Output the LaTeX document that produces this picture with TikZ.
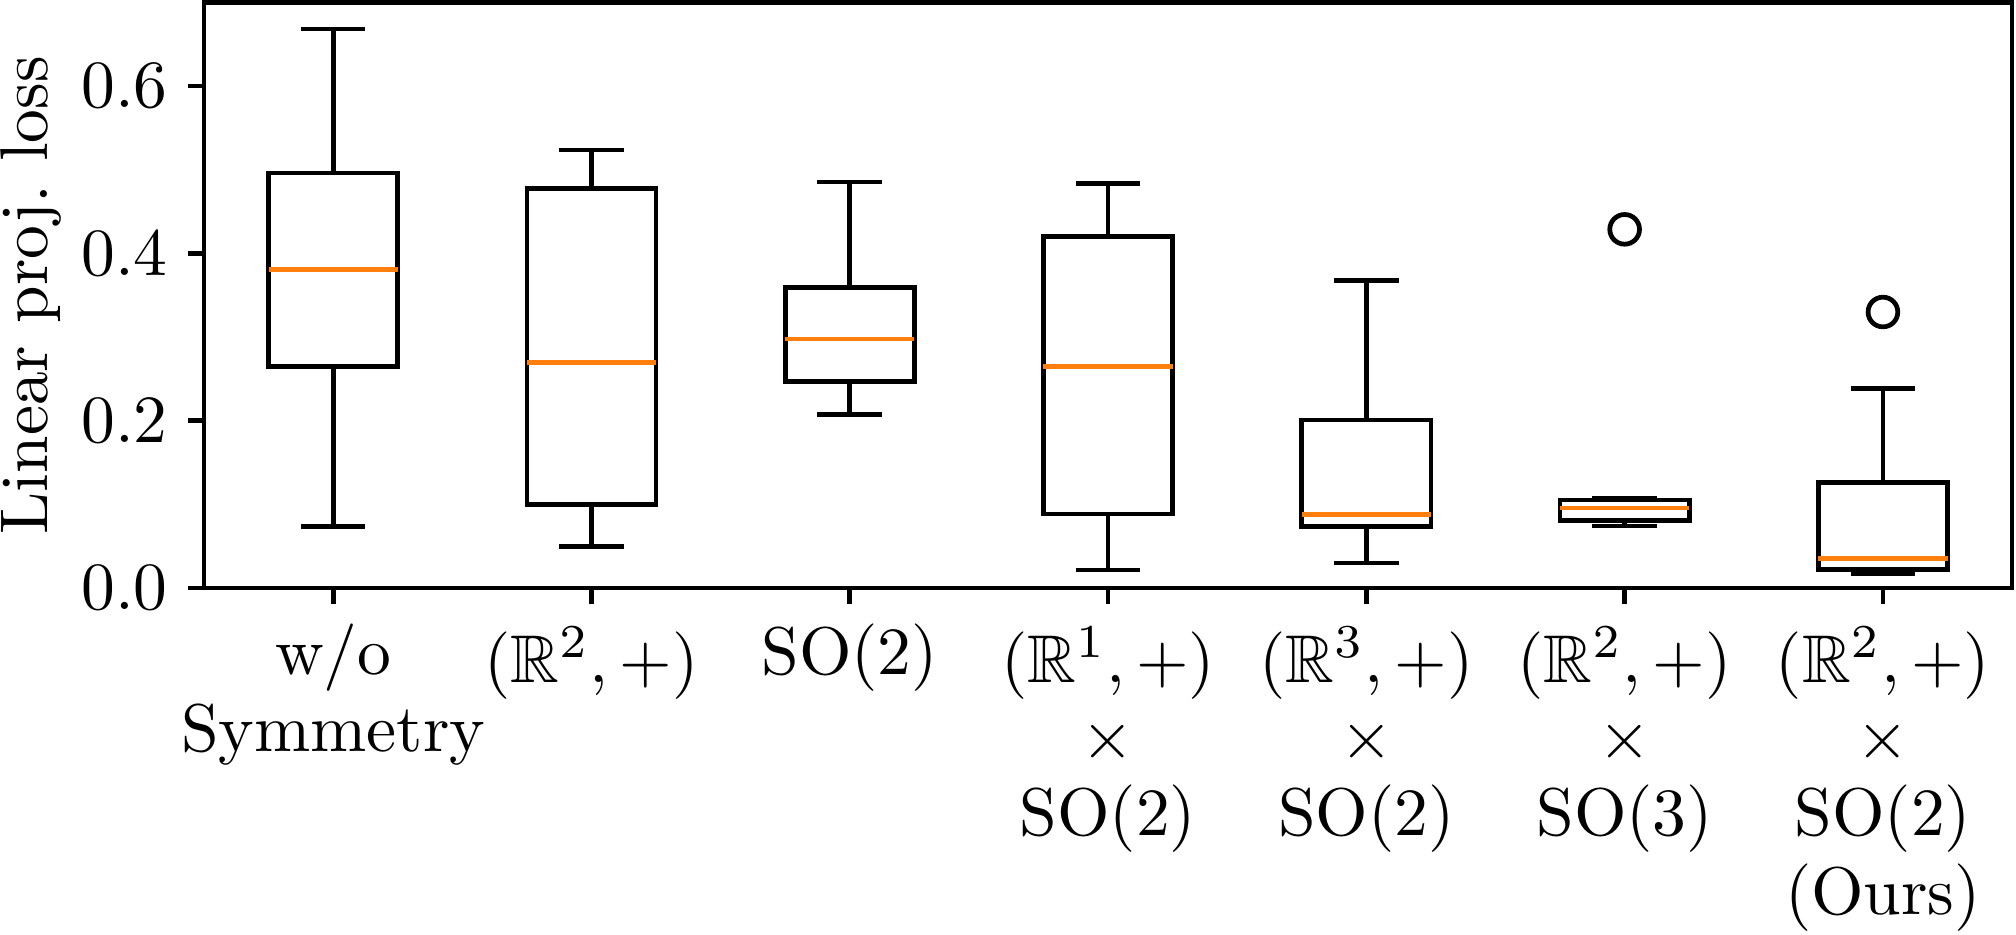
\documentclass[tikz,border=0pt]{standalone}
\usepackage{amssymb}
\usepackage{xcolor}
\definecolor{mplorange}{HTML}{FF7F0E}

\begin{document}
\begin{tikzpicture}[x=1.3449cm, y=4.3567cm, line width=0.7pt,
  med/.style={draw=mplorange, line width=0.7pt},
  lbl/.style={inner sep=0pt, anchor=base},
  tck/.style={inner sep=0pt, anchor=east}]
\useasboundingbox (-0.2898,-0.4135) rectangle (7.5152,0.7028);

% w/o symmetry
\draw (0.75,0.2645) rectangle (1.25,0.496);
\draw (1,0.496) -- (1,0.668);
\draw (1,0.2645) -- (1,0.0733);
\draw (0.875,0.668) -- (1.125,0.668);
\draw (0.875,0.0733) -- (1.125,0.0733);
\draw[med] (0.75,0.381) -- (1.25,0.381);

\draw (1.75,0.1) rectangle (2.25,0.4777);
\draw (2,0.4777) -- (2,0.5235);
\draw (2,0.1) -- (2,0.0494);
\draw (1.875,0.5235) -- (2.125,0.5235);
\draw (1.875,0.0494) -- (2.125,0.0494);
\draw[med] (1.75,0.2697) -- (2.25,0.2697);

\draw (2.75,0.2466) rectangle (3.25,0.3594);
\draw (3,0.3594) -- (3,0.4852);
\draw (3,0.2466) -- (3,0.2071);
\draw (2.875,0.4852) -- (3.125,0.4852);
\draw (2.875,0.2071) -- (3.125,0.2071);
\draw[med] (2.75,0.2976) -- (3.25,0.2976);

\draw (3.75,0.0884) rectangle (4.25,0.4199);
\draw (4,0.4199) -- (4,0.4832);
\draw (4,0.0884) -- (4,0.0215);
\draw (3.875,0.4832) -- (4.125,0.4832);
\draw (3.875,0.0215) -- (4.125,0.0215);
\draw[med] (3.75,0.2645) -- (4.25,0.2645);

\draw (4.75,0.0737) rectangle (5.25,0.2008);
\draw (5,0.2008) -- (5,0.3673);
\draw (5,0.0737) -- (5,0.0299);
\draw (4.875,0.3673) -- (5.125,0.3673);
\draw (4.875,0.0299) -- (5.125,0.0299);
\draw[med] (4.75,0.0876) -- (5.25,0.0876);

\draw (5.75,0.0805) rectangle (6.25,0.1052);
\draw (6,0.1052) -- (6,0.1073);
\draw (6,0.0805) -- (6,0.0741);
\draw (5.875,0.1073) -- (6.125,0.1073);
\draw (5.875,0.0741) -- (6.125,0.0741);
\draw[med] (5.75,0.0956) -- (6.25,0.0956);
\draw (6,0.4287) circle[radius=2.2pt];

% ours
\draw (6.75,0.0223) rectangle (7.25,0.1259);
\draw (7,0.1259) -- (7,0.2387);
\draw (7,0.0223) -- (7,0.0175);
\draw (6.875,0.2387) -- (7.125,0.2387);
\draw (6.875,0.0175) -- (7.125,0.0175);
\draw[med] (6.75,0.0355) -- (7.25,0.0355);
\draw (7,0.3299) circle[radius=2.2pt];

% axes
\draw (0.5,0) rectangle (7.5,0.7);
\draw (0.5,0) -- +(-2.4pt,0);
\draw (0.5,0.2) -- +(-2.4pt,0);
\draw (0.5,0.4) -- +(-2.4pt,0);
\draw (0.5,0.6) -- +(-2.4pt,0);
\draw (1,0) -- +(0,-2.4pt);
\draw (2,0) -- +(0,-2.4pt);
\draw (3,0) -- +(0,-2.4pt);
\draw (4,0) -- +(0,-2.4pt);
\draw (5,0) -- +(0,-2.4pt);
\draw (6,0) -- +(0,-2.4pt);
\draw (7,0) -- +(0,-2.4pt);

\node[tck] (y0) at (0.3684,0) {0.0};
\node[tck] (y2) at (0.3684,0.2) {0.2};
\node[tck] (y4) at (0.3684,0.4) {0.4};
\node[tck] (y6) at (0.3684,0.6) {0.6};
\node[lbl, rotate=90] (ylab) at (-0.104,0.35) {Linear proj.\ loss};

\node[lbl] (x1a) at (1,-0.1028) {w/o};
\node[lbl] (x1b) at (1,-0.1948) {Symmetry};
\node[lbl] (x2a) at (2,-0.1123) {$(\mathbb{R}^2,+)$};
\node[lbl] (x3a) at (3,-0.1028) {SO(2)};
\node[lbl] (x4a) at (4,-0.1123) {$(\mathbb{R}^1,+)$};
\node[lbl] (x4b) at (4,-0.2032) {$\times$};
\node[lbl] (x4c) at (4,-0.2952) {SO(2)};
\node[lbl] (x5a) at (5,-0.1123) {$(\mathbb{R}^3,+)$};
\node[lbl] (x5b) at (5,-0.2032) {$\times$};
\node[lbl] (x5c) at (5,-0.2952) {SO(2)};
\node[lbl] (x6a) at (6,-0.1123) {$(\mathbb{R}^2,+)$};
\node[lbl] (x6b) at (6,-0.2032) {$\times$};
\node[lbl] (x6c) at (6,-0.2952) {SO(3)};
\node[lbl] (x7a) at (7,-0.1123) {$(\mathbb{R}^2,+)$};
\node[lbl] (x7b) at (7,-0.2032) {$\times$};
\node[lbl] (x7c) at (7,-0.2952) {SO(2)};
\node[lbl] (x7d) at (7,-0.3896) {(Ours)};
\end{tikzpicture}
\end{document}
